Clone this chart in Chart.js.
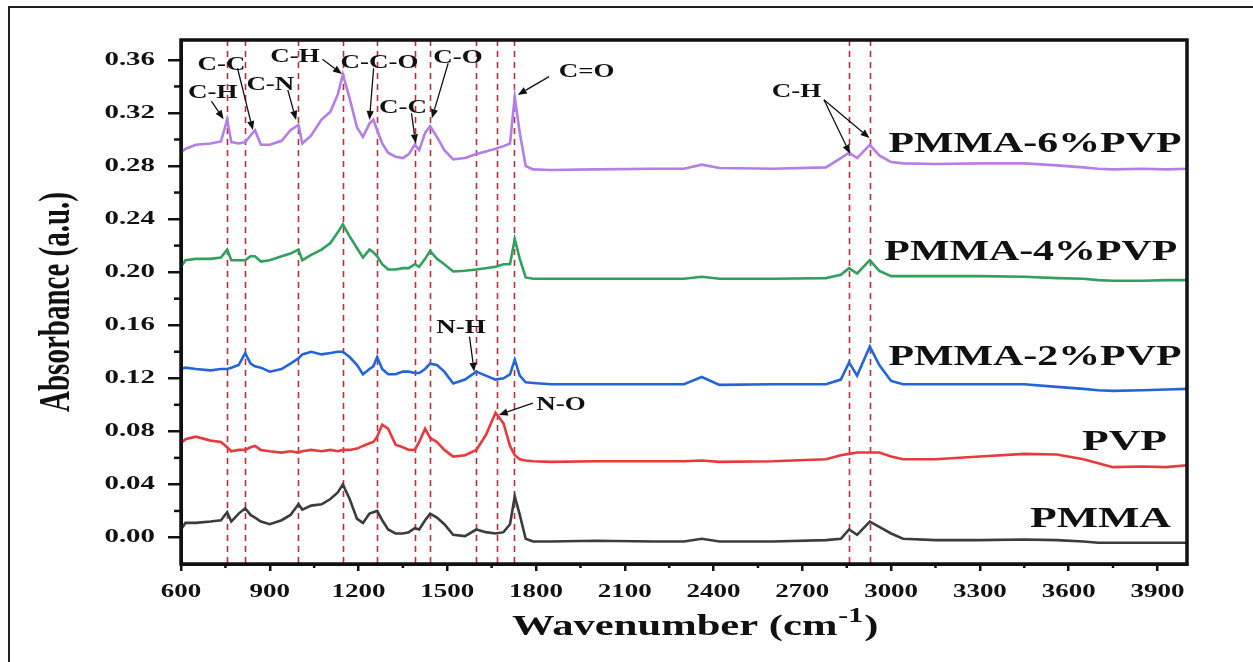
<!DOCTYPE html>
<html>
<head>
<meta charset="utf-8">
<script src="https://cdn.jsdelivr.net/npm/chart.js@4.4.1/dist/chart.umd.min.js"></script>
<style>
  html, body { margin: 0; padding: 0; background: #fff; overflow: hidden; }
  #wrap { position: relative; width: 1253px; height: 662px; overflow: hidden; }
  #frame { position: absolute; left: 8px; top: 6px; width: 1300px; height: 700px; border: 2px solid #222; }
  canvas { position: absolute; left: 0; top: 0; }
</style>
</head>
<body>
<div id="wrap">
  <div id="frame"></div>
  <canvas id="chart" width="1253" height="662"></canvas>
</div>
<script>
// wavenumber grid (cm-1)
const wavenumbers = [
  600, 615, 650, 700, 735, 756, 770, 795, 817, 835,
  850, 870, 900, 940, 970, 997, 1010, 1040, 1075, 1105,
  1130, 1147, 1170, 1195, 1215, 1237, 1250, 1263, 1280, 1300,
  1325, 1350, 1370, 1390, 1405, 1425, 1442, 1465, 1490, 1520,
  1560, 1598, 1630, 1663, 1690, 1712, 1728, 1745, 1765, 1790,
  1850, 2000, 2200, 2300, 2360, 2420, 2600, 2780, 2830, 2858,
  2885, 2928, 2960, 3000, 3040, 3150, 3300, 3450, 3560, 3650,
  3700, 3750, 3850, 3930, 4000
];

const pmma = [
  0.006, 0.011, 0.011, 0.012, 0.013, 0.019, 0.012, 0.018, 0.022, 0.017,
  0.015, 0.012, 0.010, 0.013, 0.017, 0.025, 0.021, 0.024, 0.025, 0.029,
  0.034, 0.040, 0.029, 0.014, 0.011, 0.018, 0.019, 0.020, 0.013, 0.006,
  0.003, 0.003, 0.004, 0.007, 0.006, 0.013, 0.018, 0.015, 0.010, 0.002,
  0.001, 0.006, 0.004, 0.003, 0.004, 0.010, 0.031, 0.017, -0.001, -0.003,
  -0.003, -0.0025, -0.003, -0.003, -0.001, -0.003, -0.003, -0.002, -0.001, 0.006,
  0.002, 0.012, 0.008, 0.003, -0.001, -0.002, -0.002, -0.0015, -0.002, -0.003,
  -0.004, -0.004, -0.004, -0.004, -0.004
];

const pvp = [
  0.071, 0.074, 0.076, 0.073, 0.072, 0.068, 0.065, 0.066, 0.066, 0.068,
  0.069, 0.066, 0.065, 0.064, 0.065, 0.064, 0.065, 0.066, 0.065, 0.066,
  0.065, 0.066, 0.066, 0.067, 0.069, 0.071, 0.072, 0.076, 0.085, 0.082,
  0.070, 0.068, 0.066, 0.066, 0.072, 0.082, 0.075, 0.072, 0.066, 0.061,
  0.062, 0.066, 0.077, 0.094, 0.086, 0.069, 0.062, 0.059, 0.058, 0.0575,
  0.057, 0.0575, 0.0575, 0.0575, 0.058, 0.057, 0.0575, 0.059, 0.062, 0.063,
  0.064, 0.064, 0.064, 0.061, 0.059, 0.059, 0.061, 0.063, 0.0625, 0.059,
  0.056, 0.053, 0.0535, 0.053, 0.0545
];

const pvp2 = [
  0.127, 0.128, 0.127, 0.126, 0.127, 0.127, 0.128, 0.130, 0.139, 0.131,
  0.129, 0.128, 0.125, 0.127, 0.131, 0.135, 0.138, 0.140, 0.138, 0.139,
  0.140, 0.140, 0.136, 0.130, 0.123, 0.127, 0.129, 0.136, 0.127, 0.123,
  0.123, 0.125, 0.125, 0.124, 0.124, 0.127, 0.131, 0.130, 0.125, 0.116,
  0.119, 0.125, 0.122, 0.119, 0.120, 0.123, 0.134, 0.122, 0.117, 0.1165,
  0.1155, 0.1155, 0.1155, 0.1155, 0.121, 0.115, 0.1155, 0.1155, 0.119, 0.132,
  0.122, 0.144, 0.130, 0.118, 0.1155, 0.1155, 0.1155, 0.1155, 0.1135, 0.112,
  0.111, 0.1105, 0.111, 0.1115, 0.112
];

const pvp4 = [
  0.204, 0.209, 0.210, 0.210, 0.211, 0.217, 0.209, 0.209, 0.209, 0.212,
  0.212, 0.208, 0.209, 0.212, 0.214, 0.217, 0.209, 0.213, 0.217, 0.222,
  0.230, 0.236, 0.227, 0.218, 0.211, 0.217, 0.215, 0.212, 0.206, 0.202,
  0.202, 0.203, 0.203, 0.206, 0.204, 0.210, 0.216, 0.210, 0.206, 0.2005,
  0.201, 0.202, 0.203, 0.204, 0.206, 0.206, 0.225, 0.210, 0.196, 0.195,
  0.195, 0.195, 0.195, 0.195, 0.1965, 0.195, 0.195, 0.1955, 0.198, 0.203,
  0.199, 0.209, 0.201, 0.197, 0.197, 0.197, 0.197, 0.1965, 0.1955, 0.195,
  0.194, 0.1935, 0.1935, 0.194, 0.194
];

const pvp6 = [
  0.290, 0.293, 0.296, 0.297, 0.2985, 0.315, 0.298, 0.297, 0.298, 0.303,
  0.307, 0.296, 0.296, 0.299, 0.307, 0.311, 0.297, 0.303, 0.315, 0.321,
  0.334, 0.349, 0.331, 0.309, 0.302, 0.312, 0.315, 0.307, 0.297, 0.290,
  0.287, 0.286, 0.289, 0.296, 0.292, 0.305, 0.310, 0.302, 0.292, 0.285,
  0.286, 0.289, 0.291, 0.293, 0.295, 0.297, 0.332, 0.305, 0.280, 0.2775,
  0.277, 0.2775, 0.278, 0.278, 0.281, 0.2785, 0.278, 0.279, 0.286, 0.290,
  0.286, 0.296, 0.288, 0.283, 0.282, 0.2815, 0.282, 0.282, 0.2805, 0.279,
  0.278, 0.2775, 0.278, 0.2775, 0.278
];

const seriesNames = ['PMMA', 'PVP', 'PMMA-2%PVP', 'PMMA-4%PVP', 'PMMA-6%PVP'];
const seriesValues = [pmma, pvp, pvp2, pvp4, pvp6];
const seriesColors = ['#3c3c3c', '#e83a3c', '#2365d9', '#31a05e', '#b57de6'];

const xTicks = [600, 900, 1200, 1500, 1800, 2100, 2400, 2700, 3000, 3300, 3600, 3900];
const yTicks = [0, 0.04, 0.08, 0.12, 0.16, 0.20, 0.24, 0.28, 0.32, 0.36];

// band positions marked with dashed lines
const peakLines = [756, 817, 997, 1147, 1261, 1390, 1442, 1598, 1668, 1726, 2858, 2930];

// band labels: text centre/baseline and arrows (tail -> head), in data units
const notes = [
  { text: 'C-H', at: [707, 0.3311], arrows: [[703, 0.3290, 744, 0.3152]] },
  { text: 'C-C', at: [737, 0.3524], arrows: [[791, 0.3537, 843, 0.3071]] },
  { text: 'C-N', at: [902, 0.3373], arrows: [[961, 0.3373, 989, 0.3147]] },
  { text: 'C-H', at: [985, 0.3587], arrows: [[1078, 0.3605, 1144, 0.3494]] },
  { text: 'C-C-O', at: [1271, 0.3537], arrows: [[1251, 0.3537, 1237, 0.3147]] },
  { text: 'C-C', at: [1350, 0.3198], arrows: [[1379, 0.3198, 1393, 0.2971]] },
  { text: 'C-O', at: [1536, 0.3575], arrows: [[1503, 0.3575, 1448, 0.3160]] },
  { text: 'C=O', at: [1971, 0.3474], arrows: [[1844, 0.3474, 1738, 0.3336]] },
  { text: 'N-H', at: [1546, 0.1539], arrows: [[1575, 0.1514, 1591, 0.1250]] },
  { text: 'N-O', at: [1884, 0.0961], arrows: [[1789, 0.1012, 1674, 0.0924]] },
  { text: 'C-H', at: [2680, 0.3323], arrows: [[2773, 0.3300, 2861, 0.2893], [2773, 0.3300, 2927, 0.3011]] }
];

// series names: left edge / baseline in data units, drawn width in px
const nameAt = [[3469, 0.0079], [3645, 0.0660], [2991, 0.1300], [2977, 0.2092], [2991, 0.2908]];
const nameWidth = [141, 85, 293, 293, 293];

const SERIF = '"Liberation Serif", "Times New Roman", serif';

function wideText(ctx, text, x, y, size, sx, align) {
  ctx.save();
  ctx.font = 'bold ' + size + 'px ' + SERIF;
  const w = ctx.measureText(text).width * sx;
  let left = x;
  if (align === 'center') left = x - w / 2;
  if (align === 'right') left = x - w;
  ctx.translate(left, y);
  ctx.scale(sx, 1);
  ctx.textAlign = 'left';
  ctx.fillText(text, 0, 0);
  ctx.restore();
  return w;
}

function arrow(ctx, x1, y1, x2, y2) {
  const a = Math.atan2(y2 - y1, x2 - x1);
  const len = 9, half = 3.6;
  const bx = x2 - len * Math.cos(a), by = y2 - len * Math.sin(a);
  ctx.beginPath();
  ctx.moveTo(x1, y1);
  ctx.lineTo(bx, by);
  ctx.stroke();
  ctx.beginPath();
  ctx.moveTo(x2, y2);
  ctx.lineTo(bx + half * Math.sin(a), by - half * Math.cos(a));
  ctx.lineTo(bx - half * Math.sin(a), by + half * Math.cos(a));
  ctx.closePath();
  ctx.fill();
}

const decor = {
  id: 'decor',
  beforeDatasetsDraw(chart) {
    const { ctx, chartArea: area, scales: { x } } = chart;
    ctx.save();
    ctx.strokeStyle = '#b3303c';
    ctx.lineWidth = 1.6;
    ctx.setLineDash([6, 5]);
    peakLines.forEach(v => {
      const px = Math.round(x.getPixelForValue(v)) + 0.5;
      ctx.beginPath();
      ctx.moveTo(px, area.top);
      ctx.lineTo(px, area.bottom);
      ctx.stroke();
    });
    ctx.restore();
  },
  afterDraw(chart) {
    const { ctx, chartArea: area, scales: { x, y } } = chart;
    ctx.save();
    ctx.fillStyle = '#111';
    ctx.strokeStyle = '#111';

    // frame
    ctx.lineWidth = 3.5;
    ctx.strokeRect(area.left, area.top, area.right - area.left, area.bottom - area.top);

    // minor ticks
    ctx.lineWidth = 2.5;
    xTicks.map(v => v + 150).filter(v => v <= 4000).forEach(v => {
      const px = x.getPixelForValue(v);
      ctx.beginPath();
      ctx.moveTo(px, area.bottom);
      ctx.lineTo(px, area.bottom + 4);
      ctx.stroke();
    });
    yTicks.map(v => v + 0.02).filter(v => v < 0.37).forEach(v => {
      const py = y.getPixelForValue(v);
      ctx.beginPath();
      ctx.moveTo(area.left, py);
      ctx.lineTo(area.left - 7, py);
      ctx.stroke();
    });

    // tick labels
    ctx.textBaseline = 'middle';
    xTicks.forEach(v => {
      wideText(ctx, String(v), x.getPixelForValue(v), area.bottom + 28, 19, 1.42, 'center');
    });
    yTicks.forEach(v => {
      wideText(ctx, v.toFixed(2), area.left - 26, y.getPixelForValue(v), 19, 1.52, 'right');
    });

    // axis titles
    ctx.save();
    ctx.translate(58, (area.top + area.bottom) / 2);
    ctx.rotate(-Math.PI / 2);
    ctx.scale(1, 1.5);
    ctx.font = 'bold 29px ' + SERIF;
    ctx.textAlign = 'center';
    ctx.textBaseline = 'middle';
    ctx.fillText('Absorbance (a.u.)', 0, 0);
    ctx.restore();

    ctx.textBaseline = 'alphabetic';
    let tx = 512;
    const ty = 635;
    tx += wideText(ctx, 'Wavenumber (cm', tx, ty, 30, 1.42, 'left');
    tx += wideText(ctx, '-1', tx + 1, ty - 13, 21, 1.42, 'left') + 2;
    wideText(ctx, ')', tx, ty, 30, 1.42, 'left');

    // band labels and arrows
    ctx.lineWidth = 1.3;
    notes.forEach(n => {
      wideText(ctx, n.text, x.getPixelForValue(n.at[0]), y.getPixelForValue(n.at[1]), 19, 1.42, 'center');
      n.arrows.forEach(a => {
        arrow(ctx, x.getPixelForValue(a[0]), y.getPixelForValue(a[1]),
              x.getPixelForValue(a[2]), y.getPixelForValue(a[3]));
      });
    });

    // series names
    seriesNames.forEach((name, i) => {
      ctx.font = 'bold 30px ' + SERIF;
      const sx = nameWidth[i] / ctx.measureText(name).width;
      wideText(ctx, name, x.getPixelForValue(nameAt[i][0]), y.getPixelForValue(nameAt[i][1]), 30, sx, 'left');
    });
    ctx.restore();
  }
};

const axisGrid = len => ({
  display: true,
  drawOnChartArea: false,
  drawTicks: true,
  tickLength: len,
  lineWidth: 2.5,
  color: '#111',
  tickColor: '#111'
});

new Chart(document.getElementById('chart'), {
  type: 'line',
  data: {
    datasets: seriesNames.map((name, i) => ({
      label: name,
      data: wavenumbers.map((w, j) => ({ x: w, y: seriesValues[i][j] })),
      borderColor: seriesColors[i],
      borderWidth: 2.6,
      pointRadius: 0,
      fill: false,
      tension: 0
    }))
  },
  options: {
    responsive: false,
    animation: false,
    layout: { padding: { left: 168, right: 66, top: 40, bottom: 91 } },
    scales: {
      x: {
        type: 'linear',
        min: 600,
        max: 4000,
        afterBuildTicks: s => { s.ticks = xTicks.map(v => ({ value: v })); },
        ticks: { display: false },
        grid: axisGrid(7),
        border: { display: true, color: '#111', width: 3 }
      },
      y: {
        type: 'linear',
        min: -0.02,
        max: 0.375,
        afterBuildTicks: s => { s.ticks = yTicks.map(v => ({ value: v })); },
        ticks: { display: false },
        grid: axisGrid(13),
        border: { display: true, color: '#111', width: 3 }
      }
    },
    plugins: {
      legend: { display: false },
      tooltip: { enabled: false }
    }
  },
  plugins: [decor]
});
</script>
</body>
</html>
